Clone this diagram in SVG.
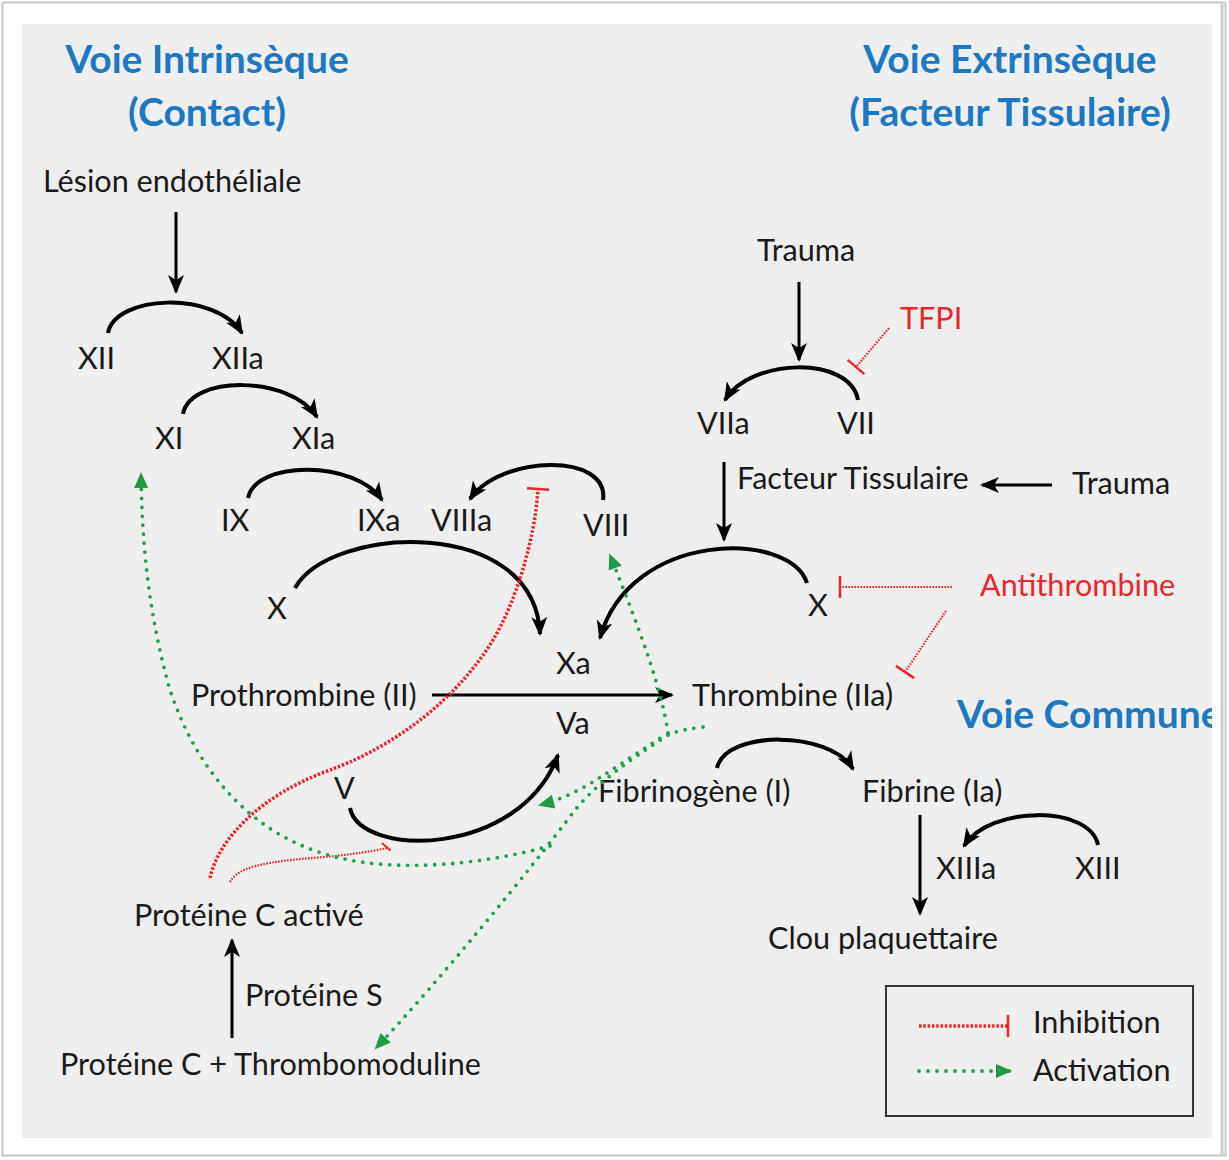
<svg xmlns="http://www.w3.org/2000/svg" width="1229" height="1160" viewBox="0 0 1229 1160">
<defs>
<style>
.t{font-family:Lato,"Liberation Sans",sans-serif;font-size:30.6px;fill:#1a1a1a}
.r{font-family:Lato,"Liberation Sans",sans-serif;font-size:30.6px;fill:#e8262d}
.h{font-family:Lato,"Liberation Sans",sans-serif;font-size:39px;font-weight:bold;fill:#1c78c0}
.arc{fill:none;stroke:#000;stroke-width:4;marker-end:url(#ah)}
.ln{fill:none;stroke:#000;stroke-width:3;marker-end:url(#ah)}
.inh{fill:none;stroke:#e8262d;stroke-width:3.5;stroke-dasharray:2.5 1.8;marker-end:url(#bar)}
.inh2{fill:none;stroke:#e8262d;stroke-width:2.2;stroke-dasharray:1.6 1.4;marker-end:url(#bar)}
.inh3{fill:none;stroke:#e8262d;stroke-width:2.2;stroke-dasharray:1.6 1.4;marker-end:url(#barS)}
.act{fill:none;stroke:#22a04a;stroke-width:3.8;stroke-dasharray:0 9;stroke-linecap:round;marker-end:url(#ga)}
</style>
<marker id="ah" markerUnits="userSpaceOnUse" markerWidth="24" markerHeight="20" viewBox="0 -10 20 20" refX="17" refY="0" orient="auto">
<path d="M0,-8 L19,0 L0,8 L5,0 z" fill="#000"/>
</marker>
<marker id="bar" markerUnits="userSpaceOnUse" markerWidth="6" markerHeight="26" viewBox="-3 -13 6 26" refX="0" refY="0" orient="auto">
<line x1="0" y1="-11" x2="0" y2="11" stroke="#e8262d" stroke-width="2.5"/>
</marker>
<marker id="barS" markerUnits="userSpaceOnUse" markerWidth="14" markerHeight="16" viewBox="-7 -8 14 16" refX="0" refY="0" orient="auto">
<line x1="-5" y1="-6" x2="2" y2="3" stroke="#e8262d" stroke-width="2"/>
</marker>
<marker id="ga" markerUnits="userSpaceOnUse" markerWidth="20" markerHeight="16" viewBox="0 -8 18 16" refX="14" refY="0" orient="auto">
<path d="M0,-7 L16,0 L0,7 z" fill="#1e9b45"/>
</marker>
<clipPath id="panel"><rect x="22" y="24" width="1190" height="1114"/></clipPath>
</defs>
<rect x="0" y="0" width="1229" height="1160" fill="#fff"/>
<rect x="2.5" y="2.5" width="1223" height="1153" fill="none" stroke="#c8c8c8" stroke-width="2"/>
<rect x="22" y="24" width="1190" height="1114" fill="#eeeeee"/>
<line x1="1222" y1="4" x2="1222" y2="1155" stroke="#d0d0d0" stroke-width="3"/>

<g id="titles">
<text class="h" x="207" y="73" text-anchor="middle">Voie Intrinsèque</text>
<text class="h" x="207" y="126" text-anchor="middle">(Contact)</text>
<text class="h" x="1010" y="73" text-anchor="middle">Voie Extrinsèque</text>
<text class="h" x="1010" y="126" text-anchor="middle">(Facteur Tissulaire)</text>
<text class="h" x="957" y="728" clip-path="url(#panel)">Voie Commune</text>
</g>

<g id="n-lesion"><text class="t" x="43" y="192">Lésion endothéliale</text></g>
<g id="n-xii"><text class="t" x="78" y="369">XII</text></g>
<g id="n-xiia"><text class="t" x="212" y="369">XIIa</text></g>
<g id="n-xi"><text class="t" x="155" y="449">XI</text></g>
<g id="n-xia"><text class="t" x="292" y="449">XIa</text></g>
<g id="n-ix"><text class="t" x="221" y="531">IX</text></g>
<g id="n-ixa"><text class="t" x="357" y="531">IXa</text></g>
<g id="n-viiia"><text class="t" x="431" y="531">VIIIa</text></g>
<g id="n-viii"><text class="t" x="583" y="536">VIII</text></g>
<g id="n-x1"><text class="t" x="267" y="619">X</text></g>
<g id="n-xa"><text class="t" x="556" y="674">Xa</text></g>
<g id="n-va"><text class="t" x="556" y="734">Va</text></g>
<g id="n-prothrombine"><text class="t" x="191" y="706">Prothrombine (II)</text></g>
<g id="n-thrombine"><text class="t" x="692" y="706">Thrombine (IIa)</text></g>
<g id="n-v"><text class="t" x="334" y="799">V</text></g>
<g id="n-fibrinogene"><text class="t" x="598" y="802">Fibrinogène (I)</text></g>
<g id="n-fibrine"><text class="t" x="862" y="802">Fibrine (Ia)</text></g>
<g id="n-xiiia"><text class="t" x="936" y="879">XIIIa</text></g>
<g id="n-xiii"><text class="t" x="1075" y="879">XIII</text></g>
<g id="n-clou"><text class="t" x="768" y="949">Clou plaquettaire</text></g>
<g id="n-pca"><text class="t" x="134" y="926">Protéine C activé</text></g>
<g id="n-ps"><text class="t" x="245" y="1006">Protéine S</text></g>
<g id="n-pct"><text class="t" x="60" y="1075">Protéine C + Thrombomoduline</text></g>
<g id="n-trauma1"><text class="t" x="757" y="261">Trauma</text></g>
<g id="n-viia"><text class="t" x="697" y="434">VIIa</text></g>
<g id="n-vii"><text class="t" x="837" y="434">VII</text></g>
<g id="n-ft"><text class="t" x="737" y="489">Facteur Tissulaire</text></g>
<g id="n-trauma2"><text class="t" x="1072" y="494">Trauma</text></g>
<g id="n-x2"><text class="t" x="808" y="616">X</text></g>
<g id="n-tfpi"><text class="r" x="900" y="329">TFPI</text></g>
<g id="n-antithrombine"><text class="r" x="980" y="596">Antithrombine</text></g>

<g id="connectors">
<line class="ln" x1="176" y1="212" x2="176" y2="292"/>
<path class="arc" d="M108,333 C115,295 215,290 242,333"/>
<path class="arc" d="M183,414 C190,375 290,375 317,417"/>
<path class="arc" d="M248,498 C256,460 355,460 382,500"/>
<path class="arc" d="M603,500 C610,452 500,455 470,499"/>
<path class="arc" d="M295,588 C330,525 535,515 540,634"/>
<path class="arc" d="M807,583 C790,530 630,530 600,638"/>
<path class="arc" d="M350,808 C360,858 520,858 558,755"/>
<line class="ln" x1="432" y1="695" x2="672" y2="695"/>
<line class="ln" x1="799" y1="282" x2="799" y2="360"/>
<path class="arc" d="M858,400 C850,355 750,358 725,400"/>
<line class="ln" x1="724" y1="462" x2="724" y2="540"/>
<line class="ln" x1="1052" y1="485" x2="982" y2="485"/>
<path class="arc" d="M717,768 C725,730 830,730 853,769"/>
<line class="ln" x1="920" y1="815" x2="920" y2="914"/>
<path class="arc" d="M1098,845 C1090,805 990,805 964,846"/>
<line class="ln" x1="232" y1="1038" x2="232" y2="940"/>

<path class="inh" d="M210,878 C218,840 260,795 330,770 C380,752 450,710 493,640 C515,604 535,540 538,489"/>
<path class="inh3" d="M230,882 C240,862 290,860 335,856 C355,854 372,851 388,848"/>
<path class="inh2" d="M889,328 L856,367"/>
<path class="inh2" d="M952,587 L840,587"/>
<path class="inh2" d="M946,611 L905,672"/>

<path class="act" d="M668,733 C662,690 640,630 610,555"/>
<path class="act" d="M703,727 C680,730 665,733 650,745 C610,770 580,795 540,805"/>
<path class="act" d="M668,735 C630,760 600,780 575,810 C530,870 440,980 376,1048"/>
<path class="act" d="M550,846 C480,865 400,872 340,858 C260,840 200,780 170,690 C150,620 142,550 141,474"/>
</g>

<g id="legend">
<rect x="886" y="986" width="307" height="130" fill="none" stroke="#333" stroke-width="2"/>
<path class="inh" d="M919,1026 L1008,1026"/>
<path class="act" d="M919,1071 L1010,1071"/>
<text class="t" x="1033" y="1033">Inhibition</text>
<text class="t" x="1033" y="1081">Activation</text>
</g>
</svg>
